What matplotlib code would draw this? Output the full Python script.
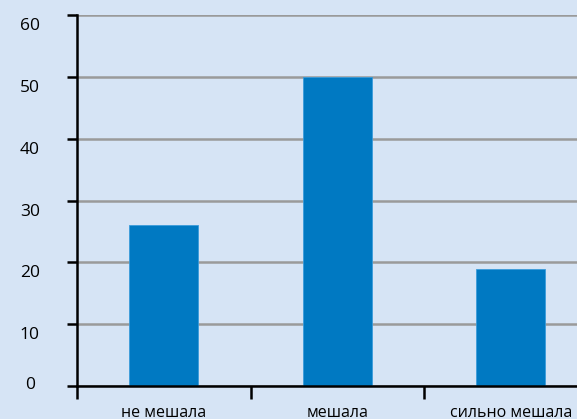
import matplotlib
matplotlib.use("Agg")
import matplotlib.pyplot as plt
from matplotlib.transforms import ScaledTranslation

categories = ["не мешала", "мешала", "сильно мешала"]
values = [26, 50, 19]
yticks = [0, 10, 20, 30, 40, 50, 60]

bg = "#D6E4F5"
bar_color = "#0079C2"

fig = plt.figure(figsize=(5.77, 4.19), dpi=100, facecolor=bg)
ax = fig.add_axes([77/577, 1 - 386/419, 1 - 77/577, (386 - 15)/419])
ax.set_facecolor(bg)

x = list(range(len(categories)))
ax.bar(x, values, width=0.4, color=bar_color, edgecolor="#3B9BDA", linewidth=0.6, zorder=3)

ax.set_yticks(yticks)
ax.set_yticklabels([str(v) for v in yticks], fontsize=12.5, family="Open Sans", ha="center")
ax.tick_params(axis="y", direction="out", length=7, width=1.8, color="black", pad=27)
ax.yaxis.grid(True, color="#9A9A9A", linewidth=1.8, zorder=1)
ax.set_axisbelow(True)

ax.set_xticks(x)
ax.set_xticklabels(categories, fontsize=11.5, family="Open Sans")
ax.tick_params(axis="x", which="major", length=0, pad=14)
ax.set_xticks([-0.5, 0.5, 1.5, 2.5], minor=True)
ax.tick_params(axis="x", which="minor", direction="out", length=9, width=1.8, color="black")

ax.set_xlim(-0.5, -0.5 + (577 - 77) / 173.5)
ax.set_ylim(0, 60)

for lbl, v in zip(ax.get_yticklabels(), yticks):
    dy = 3 if v == 0 else -9
    lbl.set_transform(lbl.get_transform() + ScaledTranslation(0, dy / 100, fig.dpi_scale_trans))

for s in ["top", "right"]:
    ax.spines[s].set_visible(False)
ax.spines["left"].set_linewidth(1.8)
ax.spines["bottom"].set_linewidth(1.8)
ax.spines["left"].set_zorder(4)
ax.spines["bottom"].set_zorder(4)

fig.savefig("out.png", dpi=100, facecolor=bg)
